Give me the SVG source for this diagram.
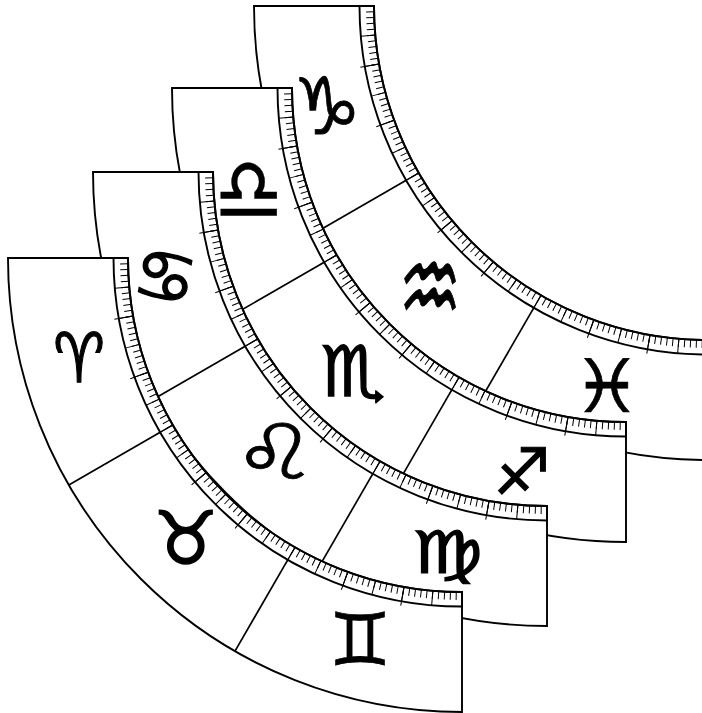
<svg xmlns="http://www.w3.org/2000/svg" width="702" height="713" viewBox="0 0 702 713">
<style>
.fan{fill:#fff;stroke:#000;stroke-width:1.9}
.in{fill:none;stroke:#000;stroke-width:1.9}
.div{fill:none;stroke:#000;stroke-width:1.7}
.t1{fill:none;stroke:#000;stroke-width:8}
.t5{fill:none;stroke:#000;stroke-width:14.5}
.t10{fill:none;stroke:#000;stroke-width:19}
.g{font-family:"DejaVu Sans",sans-serif;font-size:64px;fill:#000;stroke:#000;stroke-width:1.2;text-anchor:middle;dominant-baseline:central}
</style>
<defs>
<g id="fan">
<path class="fan" d="M-454 0H-334A334 334 0 0 0 0 334V454A454 454 0 0 1 -454 0Z"/>
<path class="t1" pathLength="90" stroke-dasharray="0.17 0.83" stroke-dashoffset="0.085" d="M-338 0A338 338 0 0 0 0 338"/>
<path class="t5" pathLength="90" stroke-dasharray="0.17 4.83" stroke-dashoffset="0.085" d="M-341.250 0A341.250 341.250 0 0 0 0 341.250"/>
<path class="t10" pathLength="90" stroke-dasharray="0.17 9.83" stroke-dashoffset="0.085" d="M-343.500 0A343.500 343.500 0 0 0 0 343.500"/>
<path class="in" d="M-348.500 0H-334A334 334 0 0 0 0 334V348.500A348.500 348.500 0 0 1 -348.500 0Z"/>
<path class="div" d="M-301.800 174.250L-393.180 227"/>
<path class="div" d="M-174.250 301.800L-227 393.180"/>
</g>
</defs>
<g id="fan-capricorn-aquarius-pisces" transform="translate(708 6)"><use href="#fan"/></g>
<g id="fan-libra-scorpio-sagittarius" transform="translate(626 88)"><use href="#fan"/></g>
<g id="fan-cancer-leo-virgo" transform="translate(547 172)"><use href="#fan"/></g>
<g id="fan-aries-taurus-gemini" transform="translate(462 258)"><use href="#fan"/></g>
<g id="signs">
<text id="aries" class="g" transform="translate(79 358) scale(.9 1.08)">♈︎</text>
<text id="taurus" class="g" transform="translate(186 538) scale(1.15 1.15)">♉︎</text>
<text id="gemini" class="g" transform="translate(360 640) scale(1.08 1.14)" style="stroke-width:.6">♊︎</text>
<text id="cancer" class="g" transform="translate(165 277) rotate(10) scale(1.1)">♋︎</text>
<text id="leo" class="g" transform="translate(275 452) scale(1.45 1.2)" style="stroke-width:.6">♌︎</text>
<text id="virgo" class="g" transform="translate(447 553) scale(1.25 .92)">♍︎</text>
<text id="libra" class="g" transform="translate(249 190) scale(1.2 1.37)" style="stroke-width:.3">♎︎</text>
<text id="scorpio" class="g" transform="translate(353 372) scale(1.13 1.1)">♏︎</text>
<text id="sagittarius" class="g" transform="translate(522 472)">♐︎</text>
<text id="capricorn" class="g" transform="translate(327 107) scale(1.2 1.24)" style="stroke-width:.6">♑︎</text>
<text id="aquarius" class="g" transform="translate(430 288) scale(1.1 1.76)" style="stroke-width:.6">♒︎</text>
<text id="pisces" class="g" transform="translate(607 387) scale(1.2 1.15)" style="stroke-width:.6">♓︎</text>
</g>
</svg>
